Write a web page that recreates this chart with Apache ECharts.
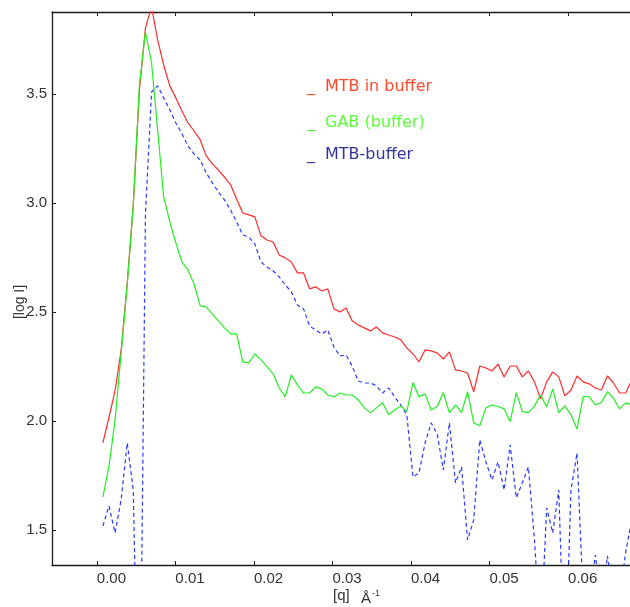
<!DOCTYPE html>
<html>
<head>
<meta charset="utf-8">
<script src="https://cdn.jsdelivr.net/npm/echarts@6/dist/echarts.min.js"></script>
<style>
  html, body { margin: 0; padding: 0; background: #fff; }
  #chart { width: 630px; height: 607px; }
</style>
</head>
<body>
<div id="chart"></div>
<script>
// Scattering vector q (1/Å)
const q = [
  0.00077, 0.00155, 0.00232, 0.00310, 0.00387, 0.00464, 0.00542, 0.00619, 0.00697, 0.00774,
  0.00851, 0.00929, 0.01006, 0.01084, 0.01161, 0.01238, 0.01316, 0.01393, 0.01471, 0.01548,
  0.01625, 0.01703, 0.01780, 0.01858, 0.01935, 0.02012, 0.02090, 0.02167, 0.02245, 0.02322,
  0.02399, 0.02477, 0.02554, 0.02632, 0.02709, 0.02786, 0.02864, 0.02941, 0.03019, 0.03096,
  0.03173, 0.03251, 0.03328, 0.03406, 0.03483, 0.03560, 0.03638, 0.03715, 0.03793, 0.03870,
  0.03947, 0.04025, 0.04102, 0.04180, 0.04257, 0.04334, 0.04412, 0.04489, 0.04567, 0.04644,
  0.04721, 0.04799, 0.04876, 0.04954, 0.05031, 0.05108, 0.05186, 0.05263, 0.05341, 0.05418,
  0.05495, 0.05573, 0.05650, 0.05728, 0.05805, 0.05882, 0.05960, 0.06037, 0.06115, 0.06192,
  0.06269, 0.06347, 0.06424, 0.06502, 0.06579, 0.06656, 0.06734, 0.06811
];

// log I, MTB in buffer
const mtbInBuffer = [
  1.899, 2.018, 2.138, 2.326, 2.633, 2.991, 3.518, 3.803, 3.900, 3.748,
  3.633, 3.537, 3.482, 3.422, 3.367, 3.330, 3.289, 3.216, 3.179, 3.151,
  3.119, 3.083, 3.018, 2.954, 2.945, 2.936, 2.849, 2.830, 2.821, 2.761,
  2.748, 2.729, 2.679, 2.679, 2.606, 2.615, 2.596, 2.606, 2.514, 2.500,
  2.518, 2.459, 2.440, 2.427, 2.413, 2.431, 2.404, 2.394, 2.385, 2.372,
  2.335, 2.307, 2.271, 2.326, 2.321, 2.312, 2.284, 2.317, 2.234, 2.229,
  2.220, 2.133, 2.252, 2.243, 2.229, 2.261, 2.202, 2.252, 2.252, 2.202,
  2.229, 2.179, 2.101, 2.179, 2.225, 2.202, 2.115, 2.142, 2.206, 2.179,
  2.170, 2.151, 2.142, 2.206, 2.174, 2.128, 2.128, 2.188
];

// log I, GAB (buffer)
const gabBuffer = [
  1.651, 1.794, 2.005, 2.312, 2.624, 2.991, 3.541, 3.784, 3.642, 3.335,
  3.028, 2.913, 2.817, 2.729, 2.693, 2.628, 2.528, 2.523, 2.491, 2.459,
  2.427, 2.399, 2.399, 2.271, 2.266, 2.307, 2.280, 2.248, 2.216, 2.151,
  2.110, 2.211, 2.165, 2.128, 2.128, 2.156, 2.147, 2.119, 2.110, 2.128,
  2.119, 2.119, 2.096, 2.060, 2.037, 2.060, 2.083, 2.028, 2.050, 2.069,
  2.043, 2.176, 2.111, 2.124, 2.050, 2.066, 2.130, 2.037, 2.073, 2.038,
  2.134, 1.991, 1.978, 2.060, 2.073, 2.066, 2.055, 1.997, 2.130, 2.043,
  2.038, 2.069, 2.119, 2.064, 2.147, 2.038, 2.069, 2.028, 1.963, 2.111,
  2.111, 2.073, 2.084, 2.134, 2.104, 2.055, 2.083, 2.075
];

// log I, MTB minus buffer
const mtbMinusBuffer = [
  1.518, 1.610, 1.486, 1.640, 1.899, 1.683, 0.294, 2.950, 3.509, 3.537,
  3.482, 3.427, 3.367, 3.317, 3.261, 3.225, 3.197, 3.138, 3.092, 3.050,
  3.014, 2.968, 2.913, 2.853, 2.844, 2.812, 2.729, 2.706, 2.688, 2.661,
  2.624, 2.592, 2.532, 2.514, 2.436, 2.417, 2.399, 2.417, 2.339, 2.298,
  2.303, 2.252, 2.183, 2.174, 2.174, 2.161, 2.128, 2.151, 2.110, 2.073,
  2.028, 1.743, 1.761, 1.899, 1.991, 1.940, 1.775, 1.991, 1.716, 1.789,
  1.454, 1.546, 1.913, 1.812, 1.729, 1.812, 1.683, 1.890, 1.647, 1.716,
  1.789, 1.454, 0.995, 1.601, 1.486, 1.683, 0.794, 1.683, 1.853, 1.179,
  1.179, 1.385, 1.179, 1.381, 1.179, 1.179, 1.399, 1.546
];

const xTicks = [0.00, 0.01, 0.02, 0.03, 0.04, 0.05, 0.06];
const yTicks = [1.5, 2.0, 2.5, 3.0, 3.5];

const seriesNames = ['MTB in buffer', 'GAB (buffer)', 'MTB-buffer'];
const lineColors = ['#ff2a2a', '#22ee22', '#2a3aff'];
const legendColors = ['#ff4a2a', '#5cff3a', '#33339a'];

const X_MIN = -0.00571, X_MAX = 0.06789;
const Y_MIN = 1.339, Y_MAX = 3.876;

const FONT = 'Liberation Sans, Arial, sans-serif';
const LEGEND_FONT = 'DejaVu Sans, sans-serif';
const frame = { show: true, onZero: false, lineStyle: { color: '#1a1a1a', width: 1.3 } };
const tickStyle = { color: '#1a1a1a', width: 1 };

const pairs = vals => q.map((x, i) => [x, vals[i]]);

const chart = echarts.init(document.getElementById('chart'), null, { renderer: 'canvas' });

// Hand-placed legend: coloured underscore followed by the series name
const legendRows = [88.5, 124.5, 156.5];
const legendGraphics = [];
seriesNames.forEach((name, i) => {
  legendGraphics.push({
    type: 'text', left: 307, top: legendRows[i] - 10,
    style: { text: '_', fill: legendColors[i], font: '16px ' + LEGEND_FONT }
  });
  legendGraphics.push({
    type: 'text', left: 325, top: legendRows[i] - 10,
    style: { text: name, fill: legendColors[i], font: '16px ' + LEGEND_FONT }
  });
});

chart.setOption({
  animation: false,
  backgroundColor: '#ffffff',
  grid: { left: 52, top: 12, right: -2, bottom: 42, containLabel: false },
  xAxis: [
    {
      type: 'value', position: 'bottom', min: X_MIN, max: X_MAX,
      axisLine: frame,
      axisTick: { show: true, inside: true, length: 4, customValues: xTicks, lineStyle: tickStyle },
      axisLabel: { show: true, customValues: xTicks, align: 'left', margin: 6,
                   formatter: v => v.toFixed(2), fontSize: 15, fontFamily: FONT, color: '#333' },
      splitLine: { show: false }
    },
    {
      type: 'value', position: 'top', min: X_MIN, max: X_MAX,
      axisLine: frame,
      axisTick: { show: true, inside: true, length: 4, customValues: xTicks, lineStyle: tickStyle },
      axisLabel: { show: false },
      splitLine: { show: false }
    }
  ],
  yAxis: [
    {
      type: 'value', position: 'left', min: Y_MIN, max: Y_MAX,
      axisLine: frame,
      axisTick: { show: true, inside: true, length: 4, customValues: yTicks, lineStyle: tickStyle },
      axisLabel: { show: true, customValues: yTicks, margin: 5,
                   formatter: v => v.toFixed(1), fontSize: 15, fontFamily: FONT, color: '#333' },
      splitLine: { show: false }
    }
  ],
  series: [
    { name: seriesNames[0], type: 'line', data: pairs(mtbInBuffer), showSymbol: false, clip: true,
      lineStyle: { color: lineColors[0], width: 1.2 }, z: 3 },
    { name: seriesNames[1], type: 'line', data: pairs(gabBuffer), showSymbol: false, clip: true,
      lineStyle: { color: lineColors[1], width: 1.2 }, z: 4 },
    { name: seriesNames[2], type: 'line', data: pairs(mtbMinusBuffer), showSymbol: false, clip: true,
      lineStyle: { color: lineColors[2], width: 1.2, type: [4, 3] }, z: 2 }
  ],
  graphic: [
    // y-axis title
    { type: 'text', x: 20, y: 302, rotation: Math.PI / 2,
      style: { text: '[log I]', fill: '#333', font: '14px ' + FONT, align: 'center', verticalAlign: 'middle' } },
    // x-axis title
    { type: 'text', x: 333, y: 596,
      style: { text: '[q]', fill: '#333', font: '15px ' + FONT, align: 'left', verticalAlign: 'middle' } },
    { type: 'text', x: 361, y: 599,
      style: { text: 'Å', fill: '#333', font: '15px ' + FONT, align: 'left', verticalAlign: 'middle' } },
    { type: 'text', x: 372, y: 594,
      style: { text: '-1', fill: '#333', font: '9px ' + FONT, align: 'left', verticalAlign: 'middle' } }
  ].concat(legendGraphics)
});
</script>
</body>
</html>
